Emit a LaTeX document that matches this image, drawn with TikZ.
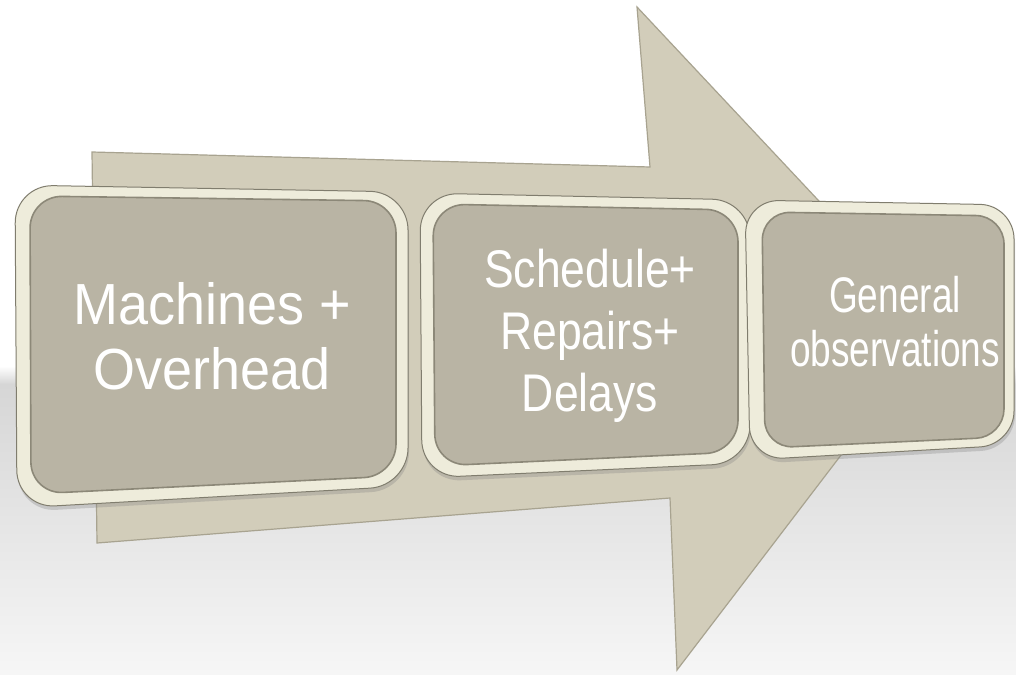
\documentclass[tikz,border=0pt]{standalone}
\usepackage{fontspec}
\setmainfont{Liberation Sans}
\usepackage{graphicx}
\usetikzlibrary{shadows}
\definecolor{arrowfill}{RGB}{210,205,186}
\definecolor{arrowedge}{RGB}{168,163,144}
\definecolor{rimcol}{RGB}{238,236,219}
\definecolor{rimdark}{RGB}{128,125,110}
\definecolor{facecol}{RGB}{185,180,164}
\definecolor{facedark}{RGB}{140,136,120}
\definecolor{bandtop}{RGB}{214,214,214}
\definecolor{bandbot}{RGB}{246,246,246}
\newcommand{\squash}[2]{\scalebox{#1}[1]{\begin{tabular}{@{}c@{}}#2\end{tabular}}}

\begin{document}
\begin{tikzpicture}[x=1pt, y=-1pt,
      rim/.style={fill=rimcol, draw=rimdark, line width=1pt, rounded corners=38pt,
                  drop shadow={shadow xshift=1pt, shadow yshift=-4pt, opacity=.3}},
      face/.style={fill=facecol, draw=facedark, line width=1.6pt, rounded corners=32pt},
      lbl/.style={text=white, inner sep=0pt}]
    \useasboundingbox (0,0) rectangle (1016,674);
    % floor
    \fill[white] (0,0) rectangle (1016,674);
    \fill[top color=white, bottom color=bandtop] (0,366) rectangle (1016,384);
    \fill[top color=bandtop, bottom color=bandbot] (0,384) rectangle (1016,674);
    % big arrow
    \filldraw[fill=arrowfill, draw=arrowedge, line width=1.2pt]
      (92,152) -- (650,167) -- (637,7) -- (938,328) -- (677,670) -- (670,498) -- (97,543) -- cycle;
    % boxes
    \path[rim]  (15,185) -- (408,192) -- (408,486) -- (17,508) -- cycle;
    \path[face] (30,196) -- (396,201) -- (396,476) -- (31,494) -- cycle;
    \path[rim]  (420,193) -- (750,200) -- (750,463) -- (422,478) -- cycle;
    \path[face] (433,204) -- (738,210) -- (738,452) -- (435,466) -- cycle;
    \path[rim, rounded corners=34pt]  (745,200) -- (1014,205) -- (1014,445) -- (750,460) -- cycle;
    \path[face, rounded corners=28pt] (762,212) -- (1004,216) -- (1004,437) -- (765,448) -- cycle;
    % labels
    \node[lbl, font=\fontsize{58}{65}\selectfont] (mach) at (212,344)
      {\squash{0.93}{Machines +\\Overhead}};
    \node[lbl, font=\fontsize{53}{62}\selectfont] (sched) at (590,337)
      {\squash{0.84}{Schedule+\\Repairs+\\Delays}};
    \node[lbl, font=\fontsize{50}{54}\selectfont] (gen) at (895,329)
      {\squash{0.74}{General\\observations}};
\end{tikzpicture}
\end{document}
